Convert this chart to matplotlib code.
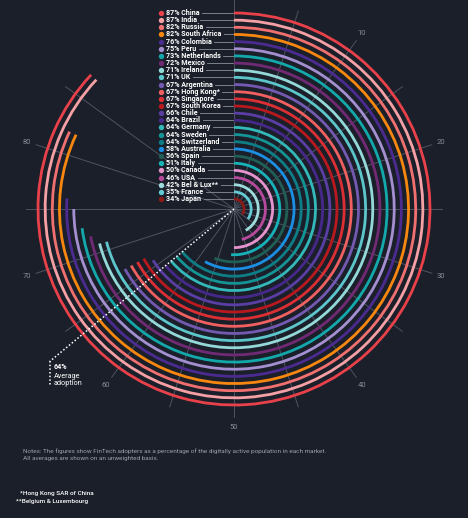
import numpy as np
import matplotlib
matplotlib.use("Agg")
import matplotlib.pyplot as plt

# data
markets = ["China", "India", "Russia", "South Africa", "Colombia", "Peru",
           "Netherlands", "Mexico", "Ireland", "UK", "Argentina", "Hong Kong*",
           "Singapore", "South Korea", "Chile", "Brazil", "Germany", "Sweden",
           "Switzerland", "Australia", "Spain", "Italy", "Canada", "USA",
           "Bel & Lux**", "France", "Japan"]
adoption = [87, 87, 82, 82, 76, 75, 73, 72, 71, 71, 67, 67, 67, 67, 66, 64,
            64, 64, 64, 58, 56, 51, 50, 46, 42, 35, 34]
colors = ["#e8414a", "#f4a0a4", "#f07070", "#f7870f", "#4b2b8f", "#a48fd0",
          "#13a9ab", "#702a74", "#94d8d8", "#5cc6cb", "#7459b0", "#f06060",
          "#dc2f34", "#b8191f", "#5a3ea3", "#46288a", "#33b9b9", "#149494",
          "#0e7e86", "#1a8fe3", "#1f5f55", "#17b2b8", "#e593cc", "#b84a9e",
          "#9edcdc", "#62cbd3", "#8a1a16"]
average = 64
tick_labels = [10, 20, 30, 40, 50, 60, 70, 80]
spoke_steps = list(range(0, 90, 5))

notes = ("Notes: The figures show FinTech adopters as a percentage of the digitally active population in each market.\n"
         "All averages are shown on an unweighted basis.")
foot1 = "*Hong Kong SAR of China"
foot2 = "**Belgium & Luxembourg"

BG = "#1b1f2a"
GRID = "#4e5361"
W, H = 468, 518
CX, CY = 234, 209       # chart centre in pixels (from top)
R = 250                 # polar axes radius in pixels
r_out, r_in = 196, 10   # outer / inner arc radius
bar_h = 2.8

plt.rcParams['font.family'] = ['Roboto', 'DejaVu Sans']

fig = plt.figure(figsize=(W / 100, H / 100), dpi=100, facecolor=BG)

ax = fig.add_axes([(CX - R) / W, (H - CY - R) / H, 2 * R / W, 2 * R / H], polar=True)
ax.set_theta_zero_location('N')
ax.set_theta_direction(-1)
ax.set_ylim(0, R)
ax.set_axis_off()

to_rad = lambda v: v / 100 * 2 * np.pi
radii = np.linspace(r_out, r_in, len(markets))

# spokes
for s in spoke_steps:
    top = 212 if s == 0 else 208
    ax.plot([to_rad(s), to_rad(s)], [0, top], color=GRID, lw=0.7, zorder=1)
for t in tick_labels:
    ax.text(to_rad(t), 218, str(t), color="#868b96", fontsize=5.5,
            ha='center', va='center')

# arcs
ax.bar([0] * len(markets), [bar_h] * len(markets), width=[to_rad(v) for v in adoption],
       bottom=radii - bar_h / 2, align='edge', color=colors, linewidth=0, zorder=3)

# average line
ax.plot([to_rad(average), to_rad(average)], [0, 239], color="white", lw=1.1,
        ls=(0, (1, 1.4)), zorder=5)

# overlay in pixel coordinates
ov = fig.add_axes([0, 0, 1, 1], facecolor='none')
ov.set_xlim(0, W)
ov.set_ylim(H, 0)
ov.set_axis_off()

ex, ey = ax.transData.transform((to_rad(average), 239))
ex, ey = ov.transData.inverted().transform((ex, ey))
ov.plot([ex, ex], [ey, ey + 24], color="white", lw=1.1, ls=(0, (1, 1.4)))
ov.text(ex + 4, ey + 6, f"{average}%", color="white", fontsize=5.2, fontweight='bold',
        va='center', ha='left')
ov.text(ex + 4, ey + 11.5, "Average\nadoption", color="white", fontsize=5.2,
        va='top', ha='left', linespacing=1.05)

# legend
texts = []
for name, val, col, r in zip(markets, adoption, colors, radii):
    y = CY - r
    ov.scatter([160.5], [y], s=15, color=col, linewidths=0, zorder=4)
    texts.append(ov.text(166, y, f"{val}% {name}", color="white", fontsize=5.1,
                         fontweight='bold', va='center', ha='left'))

fig.canvas.draw()
inv = ov.transData.inverted()
for t, r in zip(texts, radii):
    bb = t.get_window_extent()
    x1 = inv.transform((bb.x1, bb.y0))[0]
    ov.plot([x1 + 2.5, CX - 1], [CY - r, CY - r], color="#8a8f99", lw=0.6)

# notes
ov.text(23, 448, notes, color="#9aa0ab", fontsize=4.6, va='top', ha='left',
        linespacing=1.45)
ov.text(20, 494, foot1, color="white", fontsize=4.6, fontweight='medium',
        va='center', ha='left')
ov.text(16, 502, foot2, color="white", fontsize=4.6, fontweight='medium',
        va='center', ha='left')

fig.savefig("out.png", dpi=100, facecolor=BG)
